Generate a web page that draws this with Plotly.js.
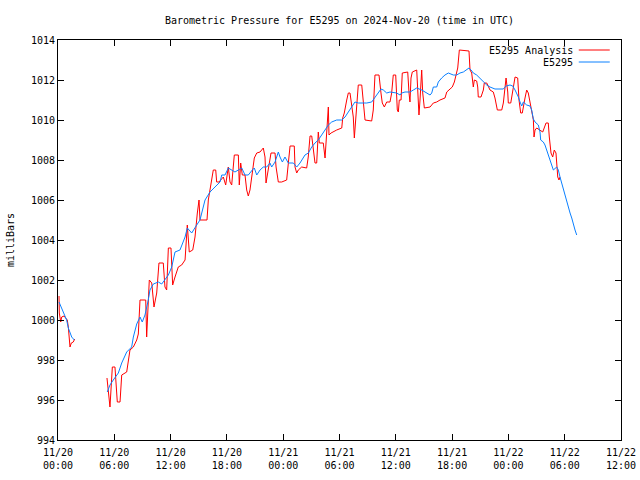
<!DOCTYPE html>
<html>
<head>
<meta charset="utf-8">
<script src="https://cdn.plot.ly/plotly-3.0.1.min.js"></script>
<style>
  html, body { margin: 0; padding: 0; background: #ffffff; }
  #chart { width: 640px; height: 480px; }
</style>
</head>
<body>
<div id="chart"></div>
<script>
// Hours since 2024-11-20 00:00 UTC, pressures in millibars (null = gap)
var analysisHours = [0.11,0.14,0.29,0.39,0.64,0.85,0.99,1.10,1.20,1.28,1.42,1.63,1.78,
  3.5,
  5.22,5.54,5.79,6.07,6.32,6.61,6.79,7.32,7.67,8.03,8.39,8.56,8.74,9.35,9.45,9.73,9.99,10.23,10.52,10.76,
  11.22,11.40,11.58,11.76,12.04,12.22,12.47,12.82,13.18,13.54,13.78,13.99,14.36,14.60,14.85,15.03,15.13,
  15.88,16.02,16.38,16.55,16.81,16.91,17.16,17.62,17.87,18.15,18.33,18.51,18.79,19.22,19.32,19.47,19.64,
  19.93,20.11,20.28,20.46,20.71,20.92,21.18,21.53,21.88,22.06,22.17,22.49,22.70,23.13,23.24,23.48,23.84,
  24.37,24.73,25.18,25.26,25.44,25.61,25.97,26.50,26.67,26.86,27.04,27.21,27.39,27.57,27.74,27.85,28.27,
  28.46,28.56,28.70,28.81,28.88,29.10,29.70,30.24,30.34,30.51,30.77,30.94,31.12,31.30,31.47,31.58,31.73,
  31.83,32.00,32.37,32.54,32.72,33.43,33.60,33.78,34.21,34.42,34.56,34.78,35.03,35.38,35.56,35.73,35.99,
  36.16,36.27,36.37,36.56,36.69,37.27,37.41,37.51,37.62,37.76,38.23,38.34,38.47,38.58,38.76,38.87,39.04,
  39.65,40.00,40.36,40.71,41.24,41.43,41.78,42.02,42.24,42.42,42.60,42.77,43.38,43.80,43.91,44.09,44.26,
  44.37,44.62,44.73,44.79,45.08,45.33,45.43,45.69,46.04,46.39,46.57,46.82,47.29,47.46,47.75,47.93,47.99,
  48.25,48.52,48.71,48.99,49.13,49.31,49.48,49.77,49.95,50.12,50.30,50.66,50.73,50.84,51.02,51.66,52.01,
  52.25,52.36,52.54,52.72,52.89,53.07,53.15,53.26,53.39,53.50];
var analysisPressure = [1001.2,1000.35,999.9,1000.15,1000.2,1000.05,1000.0,999.65,999.0,998.65,998.85,998.9,999.05,
  null,
  997.1,995.65,997.65,997.65,995.9,995.9,997.25,997.4,998.5,998.65,999.0,999.3,1001.0,1001.0,999.15,1002.0,1001.85,1000.65,1001.35,1002.85,
  1002.85,1001.65,1001.5,1003.6,1003.6,1001.75,1002.15,1002.65,1002.75,1003.0,1004.75,1003.4,1003.5,1004.15,1005.35,1006.0,1005.0,
  1005.0,1006.0,1007.0,1007.5,1007.5,1006.9,1006.9,1007.15,1006.75,1007.65,1006.9,1006.75,1008.25,1008.25,1006.75,1007.85,1007.25,
  1007.25,1006.5,1006.2,1006.5,1007.25,1008.1,1008.35,1008.4,1008.6,1008.15,1006.85,1007.65,1008.35,1008.35,1007.65,1006.9,1006.9,
  1007.0,1008.7,1008.7,1007.65,1007.35,1007.5,1007.65,1007.6,1008.15,1009.2,1009.2,1008.5,1007.85,1007.85,1009.4,1008.85,1008.85,
  1008.1,1008.85,1009.5,1010.65,1009.25,1009.35,1009.5,1009.6,1010.1,1010.35,1011.0,1011.35,1011.35,1010.65,1010.15,1009.1,1010.25,
  1010.9,1011.75,1011.75,1010.85,1010.0,1009.95,1010.5,1012.25,1012.25,1011.35,1010.85,1010.65,1010.9,1010.9,1011.35,1012.25,1012.25,
  1010.5,1010.4,1011.0,1011.0,1012.35,1012.4,1011.35,1010.9,1012.1,1012.4,1012.5,1011.0,1010.25,1011.0,1012.5,1011.35,1010.6,
  1010.65,1010.85,1010.9,1011.0,1011.1,1011.4,1011.55,1011.65,1011.9,1012.35,1012.6,1013.5,1013.45,1013.45,1012.5,1012.35,1011.65,
  1012.0,1011.95,1011.65,1011.15,1011.15,1011.5,1011.85,1011.85,1011.5,1011.4,1011.1,1010.5,1010.5,1010.85,1012.1,1011.4,1010.85,
  1010.85,1011.75,1012.15,1012.1,1011.0,1010.35,1010.35,1011.1,1011.5,1011.35,1010.85,1010.0,1009.15,1009.5,1009.6,1009.4,1009.85,
  1009.85,1009.15,1008.35,1008.15,1008.5,1008.35,1007.85,1007.15,1007.0,1007.15];

var stationHours = [0.11,0.56,0.92,1.10,1.28,1.46,1.74,
  3.5,
  5.25,5.54,5.89,6.43,6.79,7.32,7.85,8.03,8.39,8.74,8.98,9.27,9.62,9.80,10.16,10.69,11.05,11.40,11.76,
  12.12,12.47,13.00,13.54,13.78,14.25,14.78,15.13,15.67,16.20,16.73,17.27,17.45,17.80,18.15,18.51,18.86,
  19.22,19.58,19.93,20.28,20.71,20.92,21.18,21.53,21.88,22.24,22.59,22.77,23.13,23.48,23.66,23.91,24.19,
  24.54,25.08,25.44,25.79,25.97,26.32,26.68,27.04,27.39,27.74,28.10,28.46,28.81,29.17,29.70,30.24,30.59,
  30.94,31.30,31.65,32.00,32.90,33.43,33.78,34.14,34.42,34.67,35.03,35.38,36.09,36.45,36.63,36.98,37.51,
  37.87,38.23,38.76,39.29,39.65,39.83,40.00,40.36,40.53,40.89,41.24,41.60,42.13,42.49,42.84,43.20,43.56,
  43.80,44.02,44.26,44.62,44.97,45.33,45.69,46.04,46.57,47.46,47.75,48.17,48.46,48.71,48.88,49.06,49.24,
  49.42,49.59,49.95,50.30,50.48,50.66,50.84,51.19,51.37,51.44,51.72,51.90,52.08,52.26,52.43,52.61,52.79,
  53.15,53.32,53.50,53.68,53.85,54.03,54.21,54.39,54.57,54.75,54.92,55.10,55.28];
var stationPressure = [1000.9,1000.4,1000.0,999.6,999.35,999.15,999.0,
  null,
  996.4,996.75,997.0,997.35,997.85,998.4,998.65,999.15,999.8,1000.15,999.9,1000.25,1001.0,1001.5,1001.8,1001.9,1001.8,1002.0,1002.25,
  1002.65,1003.4,1003.5,1004.15,1004.6,1004.35,1004.75,1005.0,1006.0,1006.4,1006.65,1006.9,1007.25,1007.25,1007.6,1007.5,1007.4,
  1007.5,1007.6,1007.25,1007.25,1007.5,1007.6,1007.25,1007.5,1007.65,1007.65,1007.85,1007.65,1007.9,1008.4,1008.15,1007.9,1008.15,
  1007.85,1007.85,1007.65,1007.85,1008.0,1008.25,1008.35,1008.65,1008.85,1009.0,1009.25,1009.5,1009.75,1009.9,1010.0,1010.0,1010.15,
  1010.4,1010.65,1010.9,1010.85,1010.85,1010.9,1011.15,1011.4,1011.55,1011.5,1011.35,1011.4,1011.35,1011.25,1011.35,1011.4,1011.4,
  1011.5,1011.6,1011.5,1011.35,1011.25,1011.35,1011.65,1011.65,1011.9,1012.1,1012.25,1012.35,1012.25,1012.25,1012.35,1012.4,1012.5,
  1012.6,1012.5,1012.35,1012.25,1012.1,1011.9,1011.75,1011.65,1011.55,1011.55,1011.7,1011.75,1011.7,1011.5,1011.35,1011.15,1010.9,
  1010.7,1010.9,1010.75,1010.7,1010.5,1010.05,1009.9,1009.75,1009.4,1009.0,1008.9,1008.75,1008.5,1008.25,1008.1,1007.85,1007.5,
  1007.65,1007.5,1007.15,1006.85,1006.5,1006.15,1005.9,1005.65,1005.35,1005.1,1004.75,1004.5,1004.25];

var tickHours = [0,6,12,18,24,30,36,42,48,54,60];
var tickLabels = ["11/20<br>00:00","11/20<br>06:00","11/20<br>12:00","11/20<br>18:00",
  "11/21<br>00:00","11/21<br>06:00","11/21<br>12:00","11/21<br>18:00",
  "11/22<br>00:00","11/22<br>06:00","11/22<br>12:00"];
var yTicks = [994,996,998,1000,1002,1004,1006,1008,1010,1012,1014];

var base = Date.UTC(2024, 10, 20, 0, 0, 0);
function toDate(h) {
  return new Date(base + Math.round(h * 3600000)).toISOString().slice(0, 19).replace('T', ' ');
}

var FONT = "DejaVu Sans Mono, Liberation Mono, monospace";

var traces = [
  {
    x: analysisHours.map(toDate), y: analysisPressure,
    type: 'scatter', mode: 'lines', name: 'E5295 Analysis',
    line: {color: '#ff0000', width: 1}, connectgaps: false
  },
  {
    x: stationHours.map(toDate), y: stationPressure,
    type: 'scatter', mode: 'lines', name: 'E5295',
    line: {color: '#0a80ff', width: 1}, connectgaps: false
  }
];

var layout = {
  width: 640, height: 480,
  paper_bgcolor: '#ffffff', plot_bgcolor: '#ffffff',
  margin: {l: 58, r: 19, t: 40, b: 40, pad: 0},
  showlegend: false,
  font: {family: FONT, size: 10, color: '#000000'},
  title: {
    text: 'Barometric Pressure for E5295 on 2024-Nov-20 (time in UTC)',
    font: {family: FONT, size: 10, color: '#000000'},
    xref: 'paper', x: 0.5, xanchor: 'center', y: 0.958, yanchor: 'middle'
  },
  xaxis: {
    type: 'date',
    range: [toDate(0), toDate(60)],
    tickvals: tickHours.map(toDate), ticktext: tickLabels,
    ticks: 'inside', ticklen: 6, tickwidth: 1, tickcolor: '#000000',
    showline: true, linecolor: '#000000', linewidth: 1, mirror: 'ticks',
    showgrid: false, zeroline: false,
    tickfont: {family: FONT, size: 10, color: '#000000'},
    tickangle: 0, ticklabelstandoff: 3
  },
  yaxis: {
    range: [994, 1014],
    tickvals: yTicks,
    ticks: 'inside', ticklen: 6, tickwidth: 1, tickcolor: '#000000',
    showline: true, linecolor: '#000000', linewidth: 1, mirror: 'ticks',
    showgrid: false, zeroline: false,
    tickfont: {family: FONT, size: 10, color: '#000000'},
    title: {text: 'milliBars', font: {family: FONT, size: 10, color: '#000000'}, standoff: 14}
  },
  annotations: [
    {xref: 'paper', yref: 'paper', x: 0.918, y: 0.975, xanchor: 'right', yanchor: 'middle',
     text: 'E5295 Analysis', showarrow: false, font: {family: FONT, size: 10, color: '#000000'}},
    {xref: 'paper', yref: 'paper', x: 0.918, y: 0.945, xanchor: 'right', yanchor: 'middle',
     text: 'E5295', showarrow: false, font: {family: FONT, size: 10, color: '#000000'}}
  ],
  shapes: [
    {type: 'line', xref: 'paper', yref: 'paper', x0: 0.925, x1: 0.980, y0: 0.975, y1: 0.975,
     line: {color: '#ff0000', width: 1}},
    {type: 'line', xref: 'paper', yref: 'paper', x0: 0.925, x1: 0.980, y0: 0.945, y1: 0.945,
     line: {color: '#0a80ff', width: 1}}
  ]
};

Plotly.newPlot('chart', traces, layout, {displayModeBar: false, staticPlot: true});
</script>
</body>
</html>
